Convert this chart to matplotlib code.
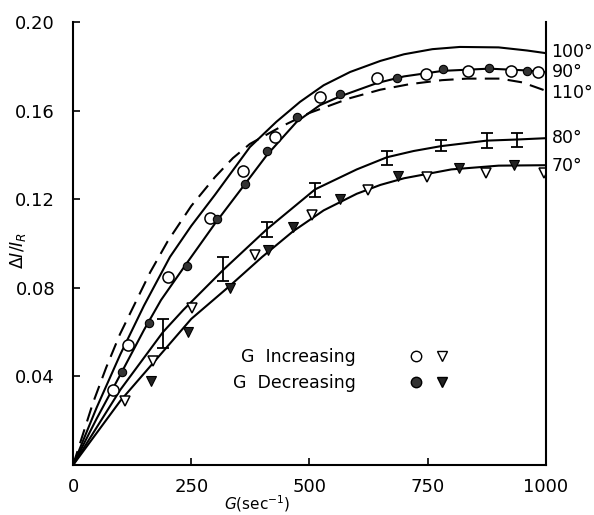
import matplotlib
matplotlib.use("Agg")
import matplotlib.pyplot as plt
from matplotlib.lines import Line2D
from matplotlib.legend_handler import HandlerTuple

# fitted curves (G in sec^-1, dI/I_R)
g_100 = [0, 50, 100, 150, 205, 250, 300, 374, 430, 480, 530, 586, 650, 700, 760, 818, 900, 960, 1000]
r_100 = [0, 0.026, 0.050, 0.072, 0.094, 0.108, 0.122, 0.1436, 0.155, 0.164, 0.1715, 0.1775, 0.1825, 0.1855, 0.1878, 0.1888, 0.1886, 0.1872, 0.186]

g_90 = [0, 50, 103, 150, 186, 240, 300, 364, 410, 473, 522, 565, 643, 700, 782, 880, 959, 1000]
r_90 = [0, 0.021, 0.042, 0.061, 0.0745, 0.091, 0.109, 0.127, 0.140, 0.155, 0.1625, 0.1665, 0.1725, 0.1755, 0.178, 0.179, 0.1782, 0.1774]

g_110 = [0, 42, 70, 99, 131, 163, 200, 250, 300, 338, 374, 438, 500, 586, 650, 712, 780, 833, 903, 950, 1000]
r_110 = [0, 0.028, 0.044, 0.059, 0.073, 0.087, 0.101, 0.117, 0.130, 0.1386, 0.145, 0.1526, 0.159, 0.1657, 0.1695, 0.172, 0.1738, 0.1745, 0.1745, 0.1728, 0.169]

g_80 = [0, 100, 190, 233, 317, 410, 512, 600, 664, 720, 778, 875, 939, 1000]
r_80 = [0, 0.034, 0.060, 0.070, 0.088, 0.1065, 0.1245, 0.1335, 0.139, 0.1418, 0.144, 0.1465, 0.147, 0.1476]

g_70 = [0, 100, 169, 250, 332, 400, 465, 530, 600, 650, 700, 800, 900, 1000]
r_70 = [0, 0.029, 0.046, 0.066, 0.081, 0.094, 0.1055, 0.115, 0.1225, 0.1265, 0.1295, 0.1335, 0.1352, 0.1354]

# measured points
g_circ_inc = [85, 117, 200, 290, 360, 427, 522, 643, 746, 835, 926, 983]
r_circ_inc = [0.034, 0.054, 0.085, 0.1115, 0.133, 0.148, 0.166, 0.175, 0.1765, 0.178, 0.178, 0.1775]
g_circ_dec = [103, 160, 240, 304, 364, 410, 473, 565, 685, 782, 880, 959]
r_circ_dec = [0.042, 0.064, 0.090, 0.111, 0.127, 0.142, 0.157, 0.1675, 0.175, 0.179, 0.1795, 0.178]

g_tri_inc = [110, 169, 251, 385, 505, 624, 748, 874, 995]
r_tri_inc = [0.029, 0.047, 0.071, 0.095, 0.113, 0.124, 0.130, 0.132, 0.132]
g_tri_dec = [165, 243, 332, 413, 465, 564, 688, 817, 932]
r_tri_dec = [0.038, 0.060, 0.080, 0.097, 0.1075, 0.120, 0.1305, 0.134, 0.1355]

# 80 deg error bars (low / high)
g_bar = [190, 317, 410, 512, 664, 778, 875, 939]
bar_lo = [0.053, 0.083, 0.103, 0.121, 0.1355, 0.1418, 0.143, 0.1436]
bar_hi = [0.066, 0.094, 0.1097, 0.1273, 0.142, 0.1467, 0.150, 0.150]

curve_labels = ["100°", "90°", "110°", "80°", "70°"]
label_y = [0.1865, 0.1774, 0.168, 0.1476, 0.1350]

fig = plt.figure(figsize=(5.94, 5.15), dpi=100)
ax = fig.add_axes([0.123, 0.097, 0.796, 0.860])

ax.plot(g_100, r_100, color="black", lw=1.5)
ax.plot(g_90, r_90, color="black", lw=1.5)
ax.plot(g_110, r_110, color="black", lw=1.5, dashes=(7, 4))
ax.plot(g_80, r_80, color="black", lw=1.5)
ax.plot(g_70, r_70, color="black", lw=1.5)

mid = [(l + h) / 2 for l, h in zip(bar_lo, bar_hi)]
err = [(h - l) / 2 for l, h in zip(bar_lo, bar_hi)]
ax.errorbar(g_bar, mid, yerr=err, fmt="none", ecolor="black", elinewidth=1.3, capsize=4, capthick=1.3)

ax.plot(g_circ_inc, r_circ_inc, "o", ms=8, mfc="white", mec="black", mew=1.1, ls="none")
ax.plot(g_circ_dec, r_circ_dec, "o", ms=6, mfc="#333333", mec="black", mew=0.8, ls="none")
ax.plot(g_tri_inc, r_tri_inc, "v", ms=7.5, mfc="white", mec="black", mew=1.1, ls="none")
ax.plot(g_tri_dec, r_tri_dec, "v", ms=7.5, mfc="#222222", mec="black", mew=0.8, ls="none")

for lab, y in zip(curve_labels, label_y):
    ax.text(1012, y, lab, fontsize=12.5, va="center", ha="left", clip_on=False)

ax.set_xlim(0, 1000)
ax.set_ylim(0, 0.20)
ax.set_xticks([0, 250, 500, 750, 1000])
ax.set_yticks([0.04, 0.08, 0.12, 0.16, 0.20])
ax.set_yticklabels(["0.04", "0.08", "0.12", "0.16", "0.20"])
ax.tick_params(direction="in", length=5, width=1.2, labelsize=13)
ax.tick_params(axis="x", pad=9)
ax.tick_params(axis="y", pad=13)
ax.spines["top"].set_visible(False)
for s in ["left", "right", "bottom"]:
    ax.spines[s].set_linewidth(1.5)

ax.set_xlabel(r"$G$(sec$^{-1}$)", fontsize=11)
ax.xaxis.set_label_coords(0.39, -0.064)
ax.set_ylabel(r"$\Delta I/I_R$", fontsize=12.5)
ax.yaxis.set_label_coords(-0.095, 0.485)

# legend: text first, markers after
h_inc = (Line2D([], [], marker="o", ms=7.5, mfc="white", mec="black", ls="none"),
         Line2D([], [], marker="v", ms=7.5, mfc="white", mec="black", ls="none"))
h_dec = (Line2D([], [], marker="o", ms=7.5, mfc="#333333", mec="black", ls="none"),
         Line2D([], [], marker="v", ms=7.5, mfc="#222222", mec="black", ls="none"))
ax.legend([h_inc, h_dec], ["G  Increasing", "G  Decreasing"],
          handler_map={tuple: HandlerTuple(ndivide=None, pad=0.6)},
          markerfirst=False, frameon=False, fontsize=12.5, handlelength=2.4,
          handletextpad=3.0, labelspacing=0.5, loc="upper left",
          bbox_to_anchor=(0.305, 0.30))

fig.savefig("out.png", dpi=100)
